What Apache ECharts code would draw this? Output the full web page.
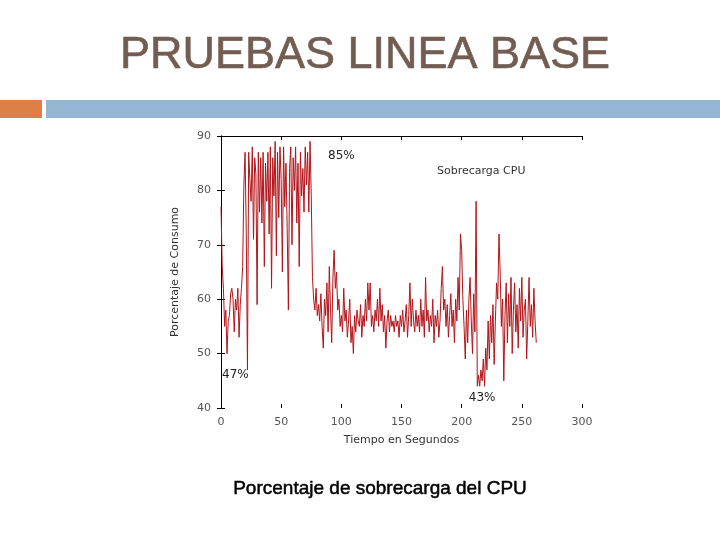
<!DOCTYPE html>
<html>
<head>
<meta charset="utf-8">
<script src="https://cdn.jsdelivr.net/npm/echarts@6/dist/echarts.min.js"></script>
<style>
html,body{margin:0;padding:0;background:#fff;}
#c{width:720px;height:540px;}
</style>
</head>
<body>
<div id="c"></div>
<script>
// CPU overhead (%) sampled once per second
var cpuValues = [
  77, 66, 62, 55, 58, 50, 56, 57, 61, 62, 60, 54, 60, 58, 62, 53, 59, 62, 66,
  81, 87, 72, 47, 87, 82, 78, 88, 71, 86, 83, 59, 87, 76, 86, 74, 87, 66, 85, 78, 87,
  72, 88, 62, 86, 79, 89, 68, 87, 75, 88, 82, 65, 88, 77, 85, 73, 58, 84, 88, 70,
  86, 80, 88, 74, 85, 66, 87, 79, 84, 76, 88, 81, 87, 76, 89, 79, 64,
  60, 58, 62, 57, 59, 56, 61, 55, 51, 60, 57, 63, 54, 66, 58, 52, 64, 69, 62, 65,
  58, 60, 55, 57, 54, 62, 56, 58, 53, 56, 60, 52, 55, 50, 57, 54, 58, 56, 55, 59,
  53, 57, 55, 60, 56, 63, 58, 63, 55, 57, 54, 58, 56, 60, 55, 62, 56, 59, 54, 57,
  51, 56, 58, 54, 57, 55, 56, 54, 57, 55, 56, 53, 57, 55, 58, 54, 56, 59, 53, 57,
  63, 55, 60, 56, 54, 58, 55, 57, 54, 60, 55, 58, 53, 64, 56, 58, 54, 57, 55, 60,
  52, 57, 55, 58, 53, 56, 62, 66, 58, 60, 55, 59, 53, 57, 61, 55, 58, 52, 60, 56,
  64, 58, 72, 69, 60, 55, 49, 58, 52, 60, 64, 56, 50, 61, 54, 78, 44, 46, 44, 47,
  45, 49, 44, 51, 47, 56, 49, 57, 52, 59, 48, 56, 63, 60, 72, 65, 55, 60, 45, 57,
  63, 52, 61, 55, 64, 50, 58, 63, 54, 59, 51, 62, 56, 64, 53, 58, 60, 49, 56, 64,
  55, 59, 53, 62, 56, 52
];
var xTicks = { min: 0, max: 300, interval: 50 };
var yTicks = { min: 40, max: 90, interval: 10 };
var annotations = [
  { label: '85%', t: 100, v: 86.4 },
  { label: '47%', t: 12, v: 46.1 },
  { label: '43%', t: 217, v: 41.8 }
];
var seriesName = 'Sobrecarga CPU';

var points = cpuValues.map(function (v, i) { return [i, v]; });

var chart = echarts.init(document.getElementById('c'));
var labelFont = 'DejaVu Sans';
chart.setOption({
  backgroundColor: '#ffffff',
  animation: false,
  title: [
    { text: 'PRUEBAS LINEA BASE', left: 360, top: 28, textAlign: 'center',
      textStyle: { fontFamily: 'Liberation Sans', fontSize: 45, fontWeight: 'normal', color: '#735C52',
                   textBorderColor: '#735C52', textBorderWidth: 0.6 } },
    { text: 'Porcentaje de sobrecarga del CPU', left: 375, top: 474, textAlign: 'center',
      textStyle: { fontFamily: 'Liberation Sans', fontSize: 19, fontWeight: 'normal', color: '#000',
                   textBorderColor: '#000', textBorderWidth: 0.5 } }
  ],
  graphic: [
    { type: 'rect', shape: { x: 0, y: 100, width: 42, height: 18 }, style: { fill: '#DD8047' } },
    { type: 'rect', shape: { x: 46, y: 100, width: 674, height: 18 }, style: { fill: '#94B6D2' } }
  ],
  legend: {
    data: [seriesName], left: 427, top: 161, icon: 'rect', itemWidth: 0, itemHeight: 0, itemGap: 0,
    textStyle: { fontFamily: labelFont, fontSize: 11, color: '#333' }
  },
  grid: { left: 221, top: 136, right: 138, bottom: 132, containLabel: false },
  xAxis: [
    { type: 'value', min: xTicks.min, max: xTicks.max, interval: xTicks.interval,
      name: 'Tiempo en Segundos', nameLocation: 'middle', nameGap: 27,
      nameTextStyle: { fontFamily: labelFont, fontSize: 11, color: '#333' },
      axisLine: { show: false },
      axisTick: { show: true, inside: true, length: 4, lineStyle: { color: '#000' } },
      axisLabel: { fontFamily: labelFont, fontSize: 11, color: '#555', margin: 9 },
      splitLine: { show: false } },
    { type: 'value', position: 'top', min: xTicks.min, max: xTicks.max, interval: xTicks.interval,
      axisLine: { show: true, lineStyle: { color: '#000', width: 1 } },
      axisTick: { show: true, inside: true, length: 4, lineStyle: { color: '#000' } },
      axisLabel: { show: false }, splitLine: { show: false } }
  ],
  yAxis: [
    { type: 'value', min: yTicks.min, max: yTicks.max, interval: yTicks.interval,
      name: 'Porcentaje de Consumo', nameLocation: 'middle', nameGap: 40,
      nameTextStyle: { fontFamily: labelFont, fontSize: 11, color: '#333' },
      axisLine: { show: true, lineStyle: { color: '#000', width: 1 } },
      axisTick: { show: true, inside: true, length: 4, lineStyle: { color: '#000' } },
      axisLabel: { fontFamily: labelFont, fontSize: 11, color: '#555', margin: 10 },
      splitLine: { show: false } },
    { type: 'value', position: 'right', min: yTicks.min, max: yTicks.max, interval: yTicks.interval,
      axisLine: { show: true, lineStyle: { color: '#000', width: 1 } },
      axisTick: { show: true, inside: true, length: 4, lineStyle: { color: '#000' } },
      axisLabel: { show: false }, splitLine: { show: false } }
  ],
  series: [{
    name: seriesName, type: 'line', data: points, showSymbol: false, symbol: 'none',
    xAxisIndex: 0, yAxisIndex: 0,
    lineStyle: { color: '#B3141A', width: 1 }, itemStyle: { color: '#B3141A' },
    markPoint: {
      symbol: 'circle', symbolSize: 0, silent: true,
      label: { show: true, position: 'inside', fontFamily: labelFont, fontSize: 12, color: '#222',
               formatter: function (p) { return p.name; } },
      data: annotations.map(function (a) { return { name: a.label, coord: [a.t, a.v], value: a.label }; })
    }
  }]
});
</script>
</body>
</html>
